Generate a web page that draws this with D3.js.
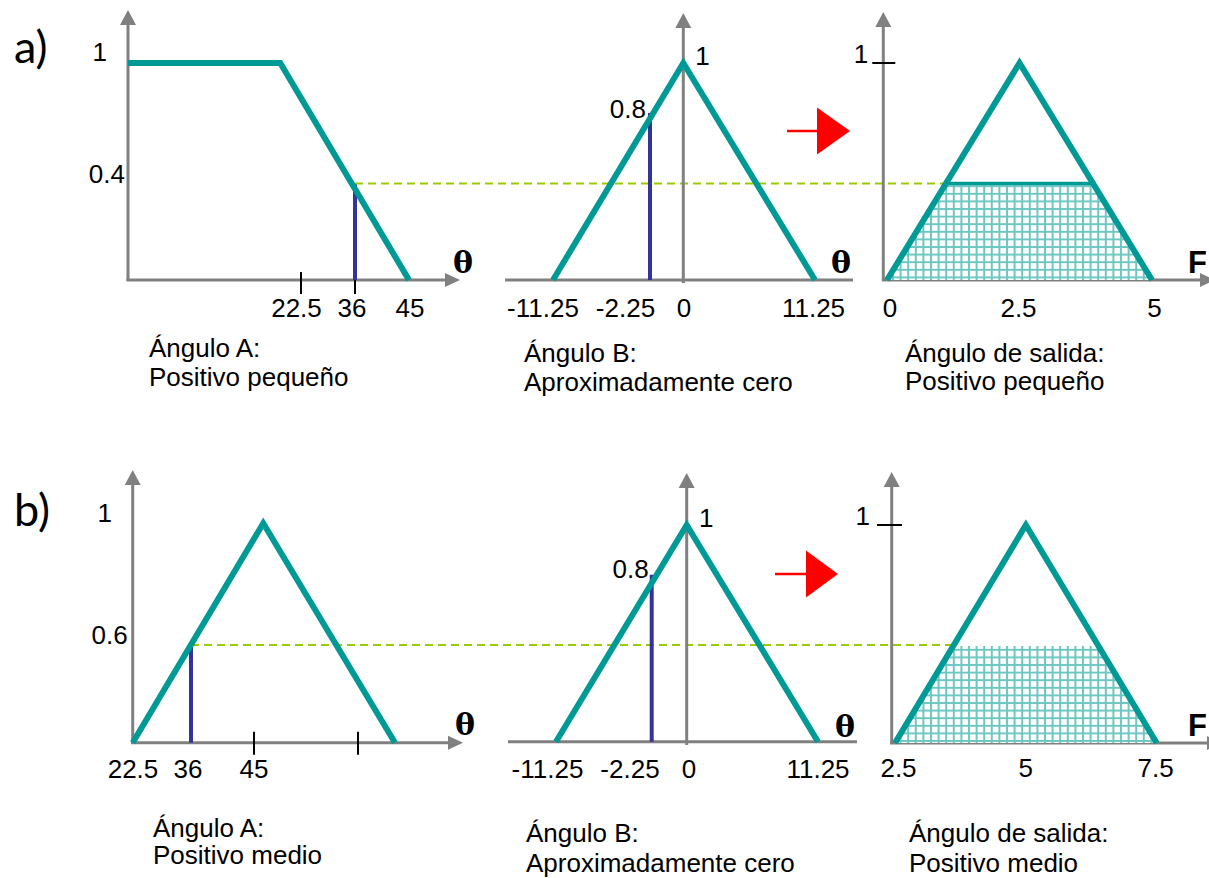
<!DOCTYPE html>
<html><head><meta charset="utf-8">
<script src="https://cdn.jsdelivr.net/npm/d3@7"></script>
<style>
html,body{margin:0;padding:0;background:#fff;}
svg{display:block;}
text{font-family:"Liberation Sans",Arial,sans-serif;fill:#000;}
</style>
</head><body>
<svg id="chart" width="1209" height="878"></svg>
<script>
// ================= DATA =================
const rowLabels = ["a)", "b)"];
const captionHeads = ["Ángulo A:", "Ángulo B:", "Ángulo de salida:"];
const captionNamesA = ["Positivo pequeño", "Aproximadamente cero", "Positivo pequeño"];
const captionNamesB = ["Positivo medio", "Aproximadamente cero", "Positivo medio"];
const inputAxisName = "θ";
const outputAxisName = "F";

// row a) - angle A
const angleATicksA = [22.5, 36, 45];
const angleATickMarksA = [22.5, 36];
const angleAShapeA = [[0, 1], [19.8, 1], [45, 0]];
const angleAInputA = 36;
const angleAMuA = 0.44;
const angleAYLabelsA = ["1", "0.4"];
// row a) / b) - angle B
const angleBTicks = [-11.25, -2.25, 0, 11.25];
const angleBShape = [[-11.25, 0], [0, 1], [11.25, 0]];
const angleBInput = -2.25;
const angleBMuA = 0.77;
const angleBMuB = 0.77;
const angleBYLabels = ["1", "0.8"];
// row a) - output
const outTicksA = [0, 2.5, 5];
const outShapeA = [[0, 0], [2.5, 1], [5, 0]];
const cutA = 0.445;
// row b) - angle A
const angleATicksB = [22.5, 36, 45];
const angleATickMarksB = [45, 67.5];
const angleAShapeB = [[22.5, 0], [47, 1], [75.5, 0]];
const angleAInputB = 36;
const angleAMuB = 0.445;
const angleAYLabelsB = ["1", "0.6"];
// row b) - output
const outTicksB = [2.5, 5, 7.5];
const outShapeB = [[2.5, 0], [5, 1], [7.5, 0]];
const cutB = 0.445;

// ================= STYLE / LAYOUT =================
const TEAL = "#009a96", BLUE = "#333399", GREEN = "#99cc00", GREY = "#808080", RED = "#ff0000";
const FS = 26;

const svg = d3.select("#chart");
const defs = svg.append("defs");
const pat = defs.append("pattern").attr("id", "grid").attr("patternUnits", "userSpaceOnUse")
  .attr("width", 7.6).attr("height", 7.6);
pat.append("rect").attr("width", 7.6).attr("height", 7.6).attr("fill", "#fff");
pat.append("path").attr("d", "M3.8,0V7.6M0,3.8H7.6").attr("stroke", "#6cc6c1").attr("stroke-width", 2);

const gDash = svg.append("g");
const gAxes = svg.append("g");
const gMarks = svg.append("g");
const gText = svg.append("g");

function arrowUp(x, tipY) {
  return `M${x},${tipY}L${x - 8},${tipY + 15}L${x + 8},${tipY + 15}Z`;
}
function arrowRight(tipX, y) {
  return `M${tipX},${y}L${tipX - 15},${y - 7}L${tipX - 15},${y + 7}Z`;
}

function drawPanel(c) {
  const xs = d3.scaleLinear().domain(c.xDomain).range(c.xRange);
  const ys = d3.scaleLinear().domain([0, 1]).range([c.axisY, c.topY]);
  const line = d3.line().x(d => xs(d[0])).y(d => ys(d[1]));

  if (c.cut != null) {
    const [a, b, cc] = c.shape.map(d => d[0]);
    const aL = a + c.cut * (b - a), cR = cc - c.cut * (cc - b);
    const poly = [[a, 0], [aL, c.cut], [cR, c.cut], [cc, 0]];
    gMarks.append("path").attr("d", line(poly) + "Z").attr("fill", "url(#grid)");
  }
  gAxes.append("line").attr("x1", c.axisX).attr("x2", c.axisX)
    .attr("y1", c.yAxisBottom).attr("y2", c.yTip + 14)
    .attr("stroke", GREY).attr("stroke-width", 3);
  gAxes.append("path").attr("d", arrowUp(c.axisX, c.yTip)).attr("fill", GREY);
  gAxes.append("line").attr("x1", c.xStart).attr("x2", c.xArrow ? c.xEnd - 14 : c.xEnd)
    .attr("y1", c.axisY).attr("y2", c.axisY)
    .attr("stroke", GREY).attr("stroke-width", 3);
  if (c.xArrow) gAxes.append("path").attr("d", arrowRight(c.xEnd, c.axisY)).attr("fill", GREY);

  (c.tickMarks || []).forEach(v => {
    gAxes.append("line").attr("x1", xs(v)).attr("x2", xs(v))
      .attr("y1", c.axisY + c.tickUp).attr("y2", c.axisY + c.tickDown)
      .attr("stroke", "#000").attr("stroke-width", 2);
  });
  if (c.yOneTick) {
    gAxes.append("line").attr("x1", c.axisX - c.yOneTick[0]).attr("x2", c.axisX + c.yOneTick[1])
      .attr("y1", ys(1)).attr("y2", ys(1)).attr("stroke", "#000").attr("stroke-width", 2);
  }
  if (c.input != null) {
    gMarks.append("line").attr("x1", xs(c.input)).attr("x2", xs(c.input))
      .attr("y1", ys(0)).attr("y2", ys(c.mu))
      .attr("stroke", BLUE).attr("stroke-width", 4);
  }
  gMarks.append("path").attr("d", line(c.shape)).attr("fill", "none")
    .attr("stroke", TEAL).attr("stroke-width", 6).attr("stroke-linejoin", "miter");
  if (c.cut != null && c.cutLine) {
    const [a, b, cc] = c.shape.map(d => d[0]);
    gMarks.append("path").attr("d", line([[a + c.cut * (b - a), c.cut], [cc - c.cut * (cc - b), c.cut]]))
      .attr("stroke", TEAL).attr("stroke-width", 3.5);
  }
  c.ticks.forEach((v, i) => {
    gText.append("text").attr("x", xs(v) + c.tickDx[i]).attr("y", c.labelY)
      .attr("text-anchor", "middle").attr("font-size", FS).text(String(v));
  });
  c.yLabels.forEach((t, i) => {
    const yl = c.yLabelPos[i];
    gText.append("text").attr("x", (yl.ref === "input" ? xs(c.input) : c.axisX) + yl.dx)
      .attr("y", ys(yl.at) + yl.dy).attr("text-anchor", yl.anchor)
      .attr("font-size", FS).text(t);
  });
  const nm = gText.append("text").attr("x", c.nameX).attr("y", c.axisY + c.nameDy).text(c.name);
  if (c.name === inputAxisName) {
    nm.style("font-family", "'DejaVu Serif','Liberation Serif',serif").attr("font-size", 30).attr("font-weight", "bold");
  } else {
    nm.attr("font-size", 31).attr("font-weight", "bold");
  }
  gText.append("text").attr("x", c.capX).attr("y", c.capY[0]).attr("font-size", FS).text(c.caption[0]);
  gText.append("text").attr("x", c.capX).attr("y", c.capY[1]).attr("font-size", FS).text(c.caption[1]);
  return { xs, ys };
}

// ---------- row a ----------
const A1 = drawPanel({
  xDomain: [0, 22.5, 36, 45], xRange: [128, 301, 355, 409],
  axisX: 128, axisY: 280, topY: 63, yTip: 10, yAxisBottom: 281, xStart: 126.5, xEnd: 460, xArrow: true,
  shape: angleAShapeA, input: angleAInputA, mu: angleAMuA,
  tickMarks: angleATickMarksA, tickUp: -8, tickDown: 14,
  ticks: angleATicksA, tickDx: [-4.5, -3, 1], labelY: 317,
  yLabels: angleAYLabelsA,
  yLabelPos: [{ at: 1, dx: -21, dy: -2, anchor: "end" }, { at: angleAMuA, dx: -3, dy: -1.5, anchor: "end" }],
  name: inputAxisName, nameX: 453, nameDy: -7,
  caption: [captionHeads[0], captionNamesA[0]], capX: 149, capY: [357, 386]
});
const B1 = drawPanel({
  xDomain: [-11.25, -2.25, 0, 11.25], xRange: [553, 650, 683.3, 815],
  axisX: 683.3, axisY: 280, topY: 63, yTip: 13, yAxisBottom: 283, xStart: 505, xEnd: 853, xArrow: false,
  shape: angleBShape, input: angleBInput, mu: angleBMuA,
  ticks: angleBTicks, tickDx: [-10, -24.5, 0.7, -1.5], labelY: 317,
  yLabels: angleBYLabels,
  yLabelPos: [{ at: 1, dx: 12, dy: 2, anchor: "start" }, { at: angleBMuA, dx: -4, dy: 5, anchor: "end", ref: "input" }],
  name: inputAxisName, nameX: 831, nameDy: -7,
  caption: [captionHeads[1], captionNamesA[1]], capX: 524, capY: [362, 391]
});
const C1 = drawPanel({
  xDomain: [0, 5], xRange: [887, 1152],
  axisX: 883.3, axisY: 280, topY: 63, yTip: 12, yAxisBottom: 281, xStart: 882, xEnd: 1215, xArrow: true,
  shape: outShapeA, cut: cutA, cutLine: true, yOneTick: [11, 12],
  ticks: outTicksA, tickDx: [3, -1, 2.5], labelY: 317,
  yLabels: ["1"], yLabelPos: [{ at: 1, dx: -15, dy: 0, anchor: "end" }],
  name: outputAxisName, nameX: 1188, nameDy: -7,
  caption: [captionHeads[2], captionNamesA[2]], capX: 905, capY: [362, 390]
});

// ---------- row b ----------
const A2 = drawPanel({
  xDomain: [22.5, 36, 45, 67.5], xRange: [132.7, 191, 254, 358],
  axisX: 132.7, axisY: 742.7, topY: 523.3, yTip: 470, yAxisBottom: 744, xStart: 131, xEnd: 463, xArrow: true,
  shape: angleAShapeB, input: angleAInputB, mu: angleAMuB,
  tickMarks: angleATickMarksB, tickUp: -11, tickDown: 12,
  ticks: angleATicksB, tickDx: [0.3, -3, 0], labelY: 778,
  yLabels: angleAYLabelsB,
  yLabelPos: [{ at: 1, dx: -20.7, dy: -1, anchor: "end" }, { at: angleAMuB, dx: -5, dy: -1, anchor: "end" }],
  name: inputAxisName, nameX: 455, nameDy: -7.5,
  caption: [captionHeads[0], captionNamesB[0]], capX: 153, capY: [837, 864]
});
const B2 = drawPanel({
  xDomain: [-11.25, -2.25, 0, 11.25], xRange: [556, 651.7, 686.7, 818],
  axisX: 686.7, axisY: 741.7, topY: 525, yTip: 473, yAxisBottom: 745, xStart: 508, xEnd: 857, xArrow: false,
  shape: angleBShape, input: angleBInput, mu: angleBMuB,
  ticks: angleBTicks, tickDx: [-8.5, -21.7, 2.3, 0], labelY: 778,
  yLabels: angleBYLabels,
  yLabelPos: [{ at: 1, dx: 12.3, dy: 2, anchor: "start" }, { at: angleBMuB, dx: -3, dy: 3, anchor: "end", ref: "input" }],
  name: inputAxisName, nameX: 835, nameDy: -4.5,
  caption: [captionHeads[1], captionNamesB[1]], capX: 526, capY: [842, 872]
});
const C2 = drawPanel({
  xDomain: [2.5, 7.5], xRange: [895, 1156.7],
  axisX: 891.7, axisY: 743, topY: 525, yTip: 472, yAxisBottom: 744, xStart: 890, xEnd: 1222, xArrow: true,
  shape: outShapeB, cut: cutB, cutLine: false, yOneTick: [14.7, 10.3],
  ticks: outTicksB, tickDx: [3.5, 0, -1], labelY: 777,
  yLabels: ["1"], yLabelPos: [{ at: 1, dx: -21.7, dy: 0, anchor: "end" }],
  name: outputAxisName, nameX: 1188, nameDy: -7,
  caption: [captionHeads[2], captionNamesB[2]], capX: 909, capY: [842, 872]
});

// ---------- dashed cut lines across each row ----------
function dashRow(pIn, input, pOut, shape, cut) {
  const [a, b] = shape.map(d => d[0]);
  gDash.append("line")
    .attr("x1", pIn.xs(input)).attr("x2", pOut.xs(a + cut * (b - a)))
    .attr("y1", pIn.ys(cut)).attr("y2", pIn.ys(cut))
    .attr("stroke", GREEN).attr("stroke-width", 2).attr("stroke-dasharray", "8,5");
}
dashRow(A1, angleAInputA, C1, outShapeA, cutA);
dashRow(A2, angleAInputB, C2, outShapeB, cutB);

// ---------- red "implies" arrows ----------
function redArrow(x0, y, shaftLen, headLen, headHalf) {
  gMarks.append("line").attr("x1", x0).attr("x2", x0 + shaftLen).attr("y1", y).attr("y2", y)
    .attr("stroke", RED).attr("stroke-width", 2.5);
  const hx = x0 + shaftLen;
  gMarks.append("path").attr("d", `M${hx},${y - headHalf}L${hx + headLen},${y}L${hx},${y + headHalf}Z`).attr("fill", RED);
}
redArrow(787, 131, 30, 33, 23.5);
redArrow(775, 574, 31, 32, 23.5);

// ---------- row labels ----------
[[14, 63], [14, 526]].forEach((p, i) => {
  gText.append("text").attr("x", p[0]).attr("y", p[1]).attr("font-size", 45)
    .style("font-family", "Lato, 'Open Sans', sans-serif").text(rowLabels[i]);
});
</script>
</body></html>
